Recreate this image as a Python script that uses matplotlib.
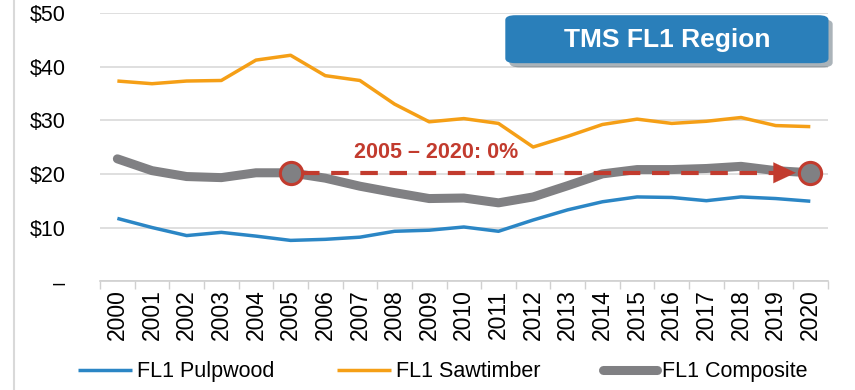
import matplotlib.pyplot as plt
from matplotlib.patches import FancyBboxPatch
from matplotlib.lines import Line2D
import matplotlib.patheffects as pe

plt.rcParams['font.family'] = ['Liberation Sans', 'DejaVu Sans']

years = [str(y) for y in range(2000, 2021)]
pulpwood = [11.7, 10.0, 8.5, 9.1, 8.4, 7.6, 7.8, 8.2, 9.3, 9.5, 10.1,
            9.3, 11.4, 13.3, 14.8, 15.7, 15.6, 15.0, 15.7, 15.4, 14.9]
sawtimber = [37.3, 36.8, 37.3, 37.4, 41.2, 42.1, 38.3, 37.4, 33.0, 29.7, 30.3,
             29.4, 25.0, 27.0, 29.2, 30.2, 29.4, 29.8, 30.5, 29.0, 28.8]
composite = [22.8, 20.6, 19.5, 19.3, 20.2, 20.2, 19.2, 17.7, 16.5, 15.4, 15.5,
             14.6, 15.7, 17.8, 20.0, 20.8, 20.8, 21.0, 21.4, 20.6, 20.2]
yticks = [0, 10, 20, 30, 40, 50]
ytick_labels = ['–', '$10', '$20', '$30', '$40', '$50']
change_label = '2005 – 2020: 0%'

blue = '#2b86c5'
orange = '#f59f16'
gray = '#808083'
red = '#c23b2e'

fig = plt.figure(figsize=(8.55, 3.9), dpi=100)
ax = fig.add_axes([0.117, 0.279, 0.851, 0.688])

x = list(range(len(years)))
ax.plot(x, pulpwood, color=blue, lw=2.5, label='FL1 Pulpwood', solid_capstyle='butt')
ax.plot(x, sawtimber, color=orange, lw=2.5, label='FL1 Sawtimber', solid_capstyle='butt')
ax.plot(x, composite, color=gray, lw=6.5, label='FL1 Composite', solid_capstyle='round')

# dashed line plus arrowhead between the two composite endpoints
i0, i1 = years.index('2005'), years.index('2020')
x_tip = i1 - 0.42
ax.plot([i0 + 0.32, x_tip - 0.3], [composite[i0], composite[i1]], color=red, lw=3,
        dashes=(4.2, 2.8), zorder=4)
ax.annotate('', xy=(x_tip, composite[i1]), xytext=(x_tip - 0.5, composite[i1]),
            arrowprops=dict(arrowstyle='-|>,head_length=1.6,head_width=0.75',
                            color=red, lw=0.1, shrinkA=0, shrinkB=0), zorder=4)
ax.plot([i0, i1], [composite[i0], composite[i1]], 'o', ms=16, mfc=gray,
        mec=red, mew=2.2, ls='none', zorder=5)
ax.text(9.2, 23.9, change_label, color=red, fontsize=15.5, fontweight='bold',
        ha='center', va='center')

ax.set_xlim(-0.5, len(years) - 0.5)
ax.set_ylim(0, 50)
ax.set_yticks(yticks)
ax.set_yticklabels(ytick_labels, fontsize=15.5)
ax.set_xticks(x)
ax.set_xticklabels(years, rotation=90, fontsize=16.5)
ax.set_xticks([i - 0.5 for i in range(len(years) + 1)], minor=True)
ax.tick_params(axis='x', which='major', length=0, pad=6)
ax.tick_params(axis='x', which='minor', length=6, color='#d0d0d0', width=1)
ax.tick_params(axis='y', length=0, pad=25)
ax.grid(axis='y', color='#d9d9d9', lw=1.2)
ax.set_axisbelow(True)
for s in ['top', 'right', 'left']:
    ax.spines[s].set_visible(False)
ax.spines['bottom'].set_color('#d0d0d0')
ax.spines['bottom'].set_linewidth(1.2)

# region badge
box = FancyBboxPatch((0.591, 0.838), 0.378, 0.123, boxstyle='round,pad=0,rounding_size=0.012',
                     transform=fig.transFigure, facecolor='#2a7fba', edgecolor='none',
                     path_effects=[pe.SimplePatchShadow(offset=(3, -3), alpha=0.35),
                                   pe.Normal()])
fig.add_artist(box)
fig.text(0.78, 0.898, 'TMS FL1 Region', color='white', fontsize=19, fontweight='bold',
         ha='center', va='center')

# slide border on the left
fig.add_artist(Line2D([0.016, 0.016], [0, 1], transform=fig.transFigure,
                      color='#d9d9d9', lw=1.5))

fig.legend(loc='center', bbox_to_anchor=(0.518, 0.047), ncol=3, frameon=False,
           fontsize=15.5, handlelength=2.5, handletextpad=0.25, columnspacing=2.9)

fig.savefig('out.png', dpi=100)
